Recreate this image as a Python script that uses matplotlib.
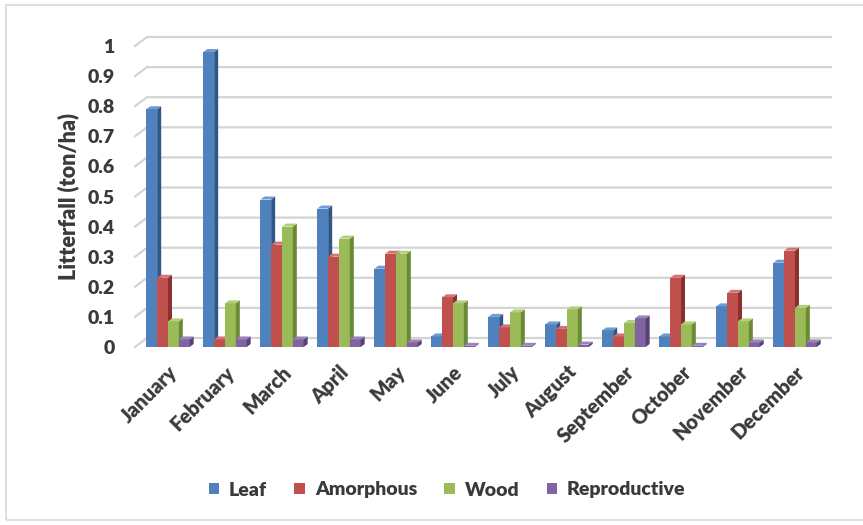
import matplotlib.pyplot as plt
import numpy as np
from matplotlib.patches import Polygon, Patch, Rectangle
from matplotlib.lines import Line2D

months = ['January', 'February', 'March', 'April', 'May', 'June', 'July',
          'August', 'September', 'October', 'November', 'December']
leaf = [0.79, 0.98, 0.49, 0.46, 0.26, 0.035, 0.10, 0.075, 0.055, 0.035, 0.135, 0.28]
amorphous = [0.23, 0.025, 0.34, 0.30, 0.31, 0.165, 0.065, 0.06, 0.035, 0.23, 0.18, 0.32]
wood = [0.085, 0.145, 0.40, 0.36, 0.31, 0.145, 0.115, 0.125, 0.08, 0.075, 0.085, 0.13]
reproductive = [0.025, 0.025, 0.025, 0.025, 0.015, 0.004, 0.004, 0.008, 0.095, 0.004, 0.015, 0.015]
yticks = [0, 0.1, 0.2, 0.3, 0.4, 0.5, 0.6, 0.7, 0.8, 0.9, 1]

series = [('Leaf', leaf, '#4f81bd', '#2f5688', '#6f9bd0'),
          ('Amorphous', amorphous, '#c0504d', '#8a302e', '#d27572'),
          ('Wood', wood, '#9bbb59', '#6b8a35', '#b3cf7b'),
          ('Reproductive', reproductive, '#8064a2', '#574276', '#9c84bb')]

plt.rcParams['font.family'] = ['Lato', 'DejaVu Sans']
txt = '#3a3a3a'
wt = 'heavy'

W, H = 863, 525
fig = plt.figure(figsize=(W / 100, H / 100), dpi=100)
left_px, right_px, bot_px, top_px = 139.5, 823.5, 347, 46
ax = fig.add_axes([left_px / W, 1 - bot_px / H, (right_px - left_px) / W, (bot_px - top_px) / H])
ax.set_xlim(-0.5, 11.5)
ax.set_ylim(0, 1)

# pixel -> data helpers for the fake 3D depth
px_x = 12 / (right_px - left_px)
px_y = 1 / (bot_px - top_px)

# back-wall gridlines with the slanted side-wall piece
for v in yticks:
    xs = [-0.5 - 4.5 * px_x, -0.5 + 7.5 * px_x, 11.5 + 7.5 * px_x]
    ys = [v, v + 9 * px_y, v + 9 * px_y]
    ax.add_line(Line2D(xs, ys, color='#d4d4d4', lw=1.6, clip_on=False, zorder=0))

x = np.arange(len(months))
bw = 0.19
dx, dy = 4 * px_x, 3 * px_y
for i, (name, vals, col, side, top) in enumerate(series):
    xpos = x + (i - 1.5) * bw
    ax.bar(xpos, vals, width=bw, color=col, edgecolor='none', zorder=2)
    for xc, v in zip(xpos, vals):
        xr = xc + bw / 2
        xl = xc - bw / 2
        ax.add_patch(Polygon([(xr, 0), (xr, v), (xr + dx, v + dy), (xr + dx, dy)],
                             closed=True, facecolor=side, edgecolor='none',
                             zorder=2, clip_on=False))
        ax.add_patch(Polygon([(xl, v), (xr, v), (xr + dx, v + dy), (xl + dx, v + dy)],
                             closed=True, facecolor=top, edgecolor='none',
                             zorder=2, clip_on=False))

for s in ax.spines.values():
    s.set_visible(False)

ax.set_yticks(yticks)
ax.set_yticklabels(['0', '0.1', '0.2', '0.3', '0.4', '0.5', '0.6', '0.7', '0.8', '0.9', '1'])
ax.tick_params(axis='y', length=0, pad=18, labelsize=14, labelcolor=txt)
for t in ax.get_yticklabels():
    t.set_fontweight(wt)

ax.set_xticks(x)
ax.set_xticklabels(months, rotation=45, ha='right', rotation_mode='anchor',
                   fontweight=wt, fontsize=14.5, color=txt)
ax.tick_params(axis='x', length=0, pad=11)

ax.set_ylabel('Litterfall (ton/ha)', fontsize=15.5, fontweight=wt, color=txt, labelpad=6)

handles = [Patch(facecolor=c, edgecolor='none', label=n) for n, _, c, _, _ in series]
leg = fig.legend(handles=handles, loc='center', bbox_to_anchor=(447 / W, 1 - 490 / H),
                 ncol=4, frameon=False, handlelength=0.55, handleheight=0.55,
                 handletextpad=0.5, columnspacing=1.4,
                 prop={'weight': wt, 'size': 14})
for t in leg.get_texts():
    t.set_color(txt)

# chart area border
fig.add_artist(Rectangle((6 / W, 1 - 520 / H), 1.0, (520 - 5) / H, transform=fig.transFigure,
                         fill=False, edgecolor='#d9d9d9', lw=1.2))

fig.savefig('out.png', dpi=100, facecolor='white')
